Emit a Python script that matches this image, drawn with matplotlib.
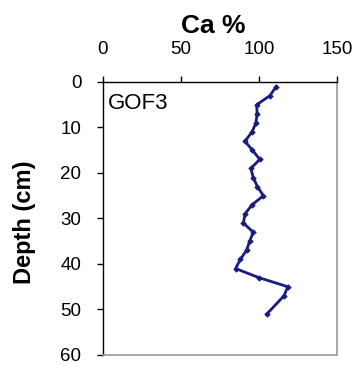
import matplotlib
matplotlib.use("Agg")
import matplotlib.pyplot as plt

# ── Data ─────────────────────────────────────────────────────────────────────
depth_cm = [1, 3, 5, 7, 9, 11, 13, 15, 17, 19, 21, 23, 25, 27, 29, 31,
            33, 35, 37, 39, 41, 43, 45, 47, 51]
ca_pct = [111, 107, 98.5, 98.8, 98, 95.5, 91, 95.8, 100.5, 94.8, 96.3, 99,
          102.8, 95.5, 91, 90, 96.3, 94, 92, 88, 85, 100, 118.5, 116, 105]

x_ticks = [0, 50, 100, 150]
y_ticks = [0, 10, 20, 30, 40, 50, 60]
core_label = "GOF3"

plt.rcParams["font.family"] = ["Liberation Sans", "DejaVu Sans"]

fig = plt.figure(figsize=(3.58, 3.67), dpi=100)
ax = fig.add_axes([0.2877, 0.0327, 0.6536, 0.7439])

ax.plot(ca_pct, depth_cm, color="#1a1a88", lw=2.0, marker="D", ms=2.8,
        markeredgewidth=0.5)

ax.set_xlim(0, 150)
ax.set_ylim(60, 0)
ax.set_xticks(x_ticks)
ax.set_yticks(y_ticks)
ax.xaxis.tick_top()
ax.tick_params(axis="both", direction="out", length=4.5, width=1,
               labelsize=13.5, colors="black")
ax.tick_params(axis="x", pad=13)
ax.tick_params(axis="y", pad=11)

for side in ["left", "top"]:
    ax.spines[side].set_color("black")
    ax.spines[side].set_linewidth(1.0)
for side in ["right", "bottom"]:
    ax.spines[side].set_color("#999999")
    ax.spines[side].set_linewidth(1.2)

# title sits a bit left of the axes centre, as in the original
fig.text(213 / 358, 1 - 33 / 367, "Ca %", fontsize=19, fontweight="bold",
         ha="center", va="baseline")
ax.set_ylabel("Depth (cm)", fontsize=17, fontweight="bold")
ax.yaxis.set_label_coords(-0.285, 0.487)

ax.text(0.02, 0.96, core_label, transform=ax.transAxes, fontsize=16,
        va="top", ha="left")

fig.savefig("out.png", dpi=100)
plt.close()
